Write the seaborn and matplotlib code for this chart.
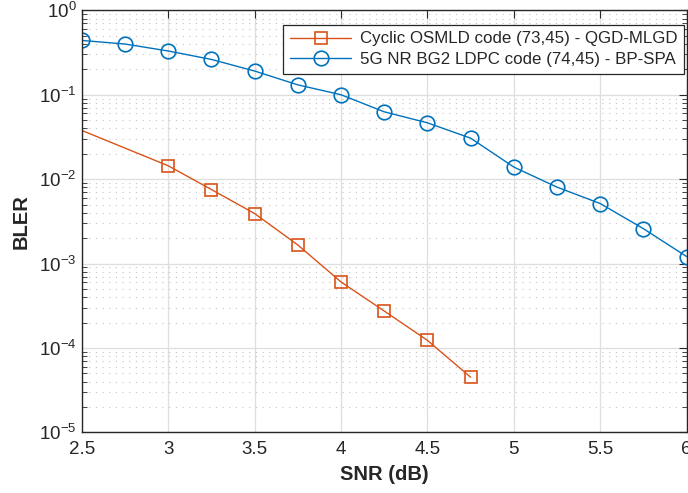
import numpy as np
import pandas as pd
import matplotlib
matplotlib.use("Agg")
import matplotlib.pyplot as plt
import seaborn as sns
from matplotlib.ticker import LogLocator, NullFormatter, FixedLocator

# ---- data ----
snr_cyclic = [2.0, 3.0, 3.25, 3.5, 3.75, 4.0, 4.25, 4.5, 4.75]
bler_cyclic = [0.099, 0.0144, 0.00753, 0.00391, 0.00166, 0.000605, 0.000274, 0.000123, 4.5e-5]
snr_ldpc = [2.5, 2.75, 3.0, 3.25, 3.5, 3.75, 4.0, 4.25, 4.5, 4.75, 5.0, 5.25, 5.5, 5.75, 6.0]
bler_ldpc = [0.44, 0.399, 0.33, 0.262, 0.191, 0.131, 0.100, 0.0628, 0.0465, 0.0306,
             0.0139, 0.00804, 0.00514, 0.00259, 0.00121]
label_cyclic = "Cyclic OSMLD code (73,45) - QGD-MLGD"
label_ldpc = "5G NR BG2 LDPC code (74,45) - BP-SPA"
x_ticks = [2.5, 3, 3.5, 4, 4.5, 5, 5.5, 6]
x_tick_labels = ["2.5", "3", "3.5", "4", "4.5", "5", "5.5", "6"]

sns.set_theme(style="white")
plt.rcParams["font.family"] = ["Liberation Sans", "DejaVu Sans"]
plt.rcParams["mathtext.fontset"] = "custom"
plt.rcParams["mathtext.rm"] = "Liberation Sans"

df1 = pd.DataFrame({"SNR": snr_cyclic, "BLER": bler_cyclic})
df2 = pd.DataFrame({"SNR": snr_ldpc, "BLER": bler_ldpc})

fig = plt.figure(figsize=(6.88, 4.93), dpi=100)
ax = fig.add_axes([0.119, 0.123, 0.879, 0.856])

orange = "#D95319"
blue = "#0072BD"

sns.lineplot(data=df1, x="SNR", y="BLER", ax=ax, color=orange, lw=1.0,
             marker="s", markersize=8, markerfacecolor="none", mec=orange, mew=1.2,
             label=label_cyclic)
sns.lineplot(data=df2, x="SNR", y="BLER", ax=ax, color=blue, lw=1.0,
             marker="o", markersize=10.5, markerfacecolor="none", mec=blue, mew=1.2,
             label=label_ldpc)

ax.set_yscale("log")
ax.set_xlim(2.5, 6)
ax.set_ylim(1e-5, 1)
ax.xaxis.set_major_locator(FixedLocator(x_ticks))
ax.set_xticklabels(x_tick_labels)
ax.yaxis.set_major_locator(LogLocator(base=10, numticks=10))
ax.yaxis.set_minor_locator(LogLocator(base=10, subs=np.arange(2, 10), numticks=20))
ax.yaxis.set_minor_formatter(NullFormatter())

ax.grid(True, which="major", color="#dedede", lw=0.9, ls="-")
ax.grid(True, which="minor", axis="y", color="#c4c4c4", lw=0.8, ls=(0, (1, 5)))
ax.set_axisbelow(True)

for s in ax.spines.values():
    s.set_visible(True)
    s.set_color("#262626")
    s.set_linewidth(1.0)

ax.tick_params(axis="both", which="major", direction="in", length=6, width=0.8,
               top=True, right=True, labelsize=13.5, colors="#262626", pad=6)
ax.tick_params(axis="y", which="minor", direction="in", length=3.5, width=0.6,
               left=True, right=True)
ax.tick_params(axis="y", which="major", pad=4)

ax.set_xlabel("SNR (dB)", fontsize=14.5, fontweight="bold", color="#262626", labelpad=5)
ax.set_ylabel("BLER", fontsize=14.5, fontweight="bold", color="#262626", labelpad=6)

leg = ax.legend(loc="upper right", bbox_to_anchor=(1.004, 0.978), fontsize=12.2,
                frameon=True, fancybox=False, edgecolor="#262626", framealpha=1,
                borderpad=0.4, handlelength=3.6, handletextpad=0.5, labelspacing=0.35,
                borderaxespad=0.3)
leg.get_frame().set_linewidth(0.9)

fig.savefig("out.png", dpi=100)
